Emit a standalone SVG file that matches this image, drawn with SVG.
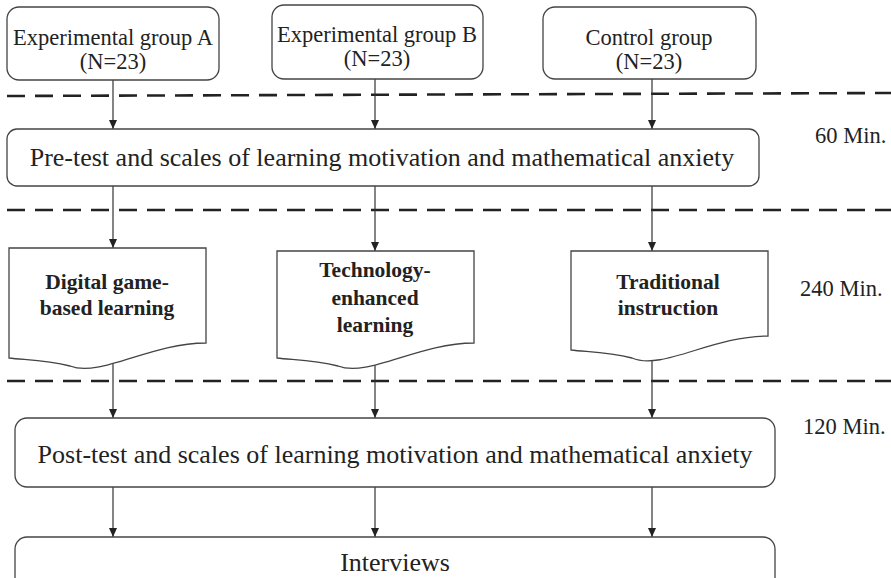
<svg xmlns="http://www.w3.org/2000/svg" width="891" height="578" viewBox="0 0 891 578">
  <defs>
    <marker id="arrow" viewBox="0 0 9 8" refX="9" refY="4" markerWidth="9" markerHeight="8" markerUnits="userSpaceOnUse" orient="auto">
      <path d="M0,0 L9,4 L0,8 Z" fill="#222"/>
    </marker>
  </defs>
  <style>
    .box { fill: #fff; stroke: #444; stroke-width: 1.3; }
    .txt { fill: #222; text-anchor: middle; }
    .bold { font-weight: bold; font-size: 21.5px; }
    .time { fill: #222; font-size: 22.5px; }
    .phase { stroke: #222; stroke-width: 2.6; stroke-dasharray: 18 10; fill: none; }
    .link { stroke: #333; stroke-width: 1.2; fill: none; marker-end: url(#arrow); }
  </style>

  <g font-family="'Liberation Serif', 'Times New Roman', 'DejaVu Serif', serif">
  <!-- phase separators -->
  <g id="phases">
    <line class="phase" x1="7" y1="96" x2="891" y2="93"/>
    <line class="phase" x1="7" y1="210" x2="891" y2="210"/>
    <line class="phase" x1="7" y1="381" x2="891" y2="381"/>
  </g>

  <!-- connectors -->
  <g id="connectors">
    <line class="link" x1="113" y1="80" x2="113" y2="129"/>
    <line class="link" x1="375" y1="79" x2="375" y2="129"/>
    <line class="link" x1="652" y1="79" x2="652" y2="129"/>

    <line class="link" x1="113" y1="186" x2="113" y2="248"/>
    <line class="link" x1="375" y1="186" x2="375" y2="251"/>
    <line class="link" x1="652" y1="186" x2="652" y2="251"/>

    <line class="link" x1="113" y1="350" x2="113" y2="418"/>
    <line class="link" x1="375" y1="350" x2="375" y2="418"/>
    <line class="link" x1="652" y1="340" x2="652" y2="418"/>

    <line class="link" x1="113" y1="487" x2="113" y2="537"/>
    <line class="link" x1="375" y1="487" x2="375" y2="537"/>
    <line class="link" x1="652" y1="487" x2="652" y2="537"/>
  </g>

  <!-- groups -->
  <g id="group-a">
    <rect class="box" x="7" y="7" width="212" height="73" rx="12"/>
    <text class="txt" x="113" y="45" font-size="22.5">Experimental group A</text>
    <text class="txt" x="113" y="69" font-size="22.5">(N=23)</text>
  </g>
  <g id="group-b">
    <rect class="box" x="272" y="5" width="211" height="74" rx="12"/>
    <text class="txt" x="377" y="42" font-size="22.5">Experimental group B</text>
    <text class="txt" x="377" y="66" font-size="22.5">(N=23)</text>
  </g>
  <g id="group-control">
    <rect class="box" x="543" y="7" width="213" height="72" rx="12"/>
    <text class="txt" x="649" y="45" font-size="22.5">Control group</text>
    <text class="txt" x="649" y="69" font-size="22.5">(N=23)</text>
  </g>

  <!-- pre-test -->
  <g id="pretest">
    <rect class="box" x="7" y="129" width="752" height="57" rx="10"/>
    <text class="txt" x="382" y="166" font-size="26">Pre-test and scales of learning motivation and mathematical anxiety</text>
  </g>

  <!-- interventions (document shapes) -->
  <g id="digital-game">
    <path class="box" d="M9,248 H206 V343 C150,343 100,378 70,366 C45,360 25,360 9,358 Z"/>
    <text class="txt bold" x="107" y="289">Digital game-</text>
    <text class="txt bold" x="107" y="315">based learning</text>
  </g>
  <g id="technology">
    <path class="box" d="M277,251 H474 V343 C418,343 368,378 338,366 C313,360 293,360 277,358 Z"/>
    <text class="txt bold" x="375" y="277">Technology-</text>
    <text class="txt bold" x="375" y="305">enhanced</text>
    <text class="txt bold" x="375" y="332">learning</text>
  </g>
  <g id="traditional">
    <path class="box" d="M571,251 H768 V336 C712,336 662,371 632,358 C607,352 587,352 571,350 Z"/>
    <text class="txt bold" x="668" y="289">Traditional</text>
    <text class="txt bold" x="668" y="315">instruction</text>
  </g>

  <!-- post-test -->
  <g id="posttest">
    <rect class="box" x="15" y="418" width="760" height="69" rx="12"/>
    <text class="txt" x="395" y="463" font-size="26">Post-test and scales of learning motivation and mathematical anxiety</text>
  </g>

  <!-- interviews -->
  <g id="interviews">
    <rect class="box" x="15" y="537" width="760" height="60" rx="12"/>
    <text class="txt" x="395" y="571" font-size="26">Interviews</text>
  </g>

  <!-- durations -->
  <g id="durations">
    <text class="time" x="815" y="143">60 Min.</text>
    <text class="time" x="800" y="296">240 Min.</text>
    <text class="time" x="803" y="434">120 Min.</text>
  </g>
  </g>
</svg>
